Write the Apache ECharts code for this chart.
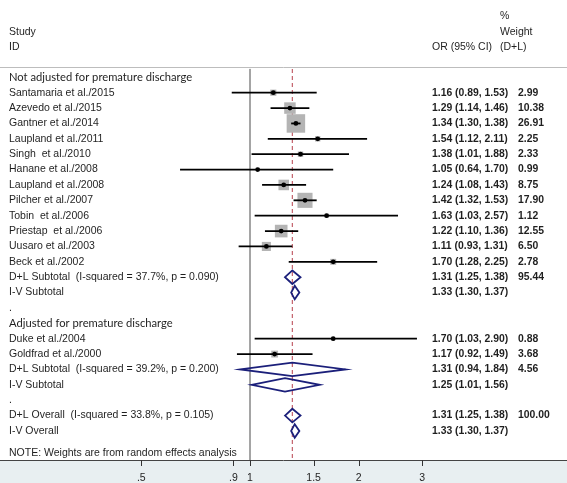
<!DOCTYPE html>
<html><head><meta charset="utf-8">
<script src="https://cdn.jsdelivr.net/npm/echarts@6/dist/echarts.min.js"></script>
<style>html,body{margin:0;padding:0;background:#fff}#c{width:567px;height:483px}</style>
</head><body><div id="c"></div>
<script>
// ---------------- data ----------------
const groupHeadings = ['Not adjusted for premature discharge', 'Adjusted for premature discharge'];
const groupRows = [0, 16];
const studyNames = ['Santamaria et al./2015', 'Azevedo et al./2015', 'Gantner et al./2014', 'Laupland et al./2011',
  'Singh  et al./2010', 'Hanane et al./2008', 'Laupland et al./2008', 'Pilcher et al./2007', 'Tobin  et al./2006',
  'Priestap  et al./2006', 'Uusaro et al./2003', 'Beck et al./2002', 'Duke et al./2004', 'Goldfrad et al./2000'];
const studyRows = [1, 2, 3, 4, 5, 6, 7, 8, 9, 10, 11, 12, 17, 18];
const studyOR = [1.16, 1.29, 1.34, 1.54, 1.38, 1.05, 1.24, 1.42, 1.63, 1.22, 1.11, 1.70, 1.70, 1.17];
const studyLow = [0.89, 1.14, 1.30, 1.12, 1.01, 0.64, 1.08, 1.32, 1.03, 1.10, 0.93, 1.28, 1.03, 0.92];
const studyHigh = [1.53, 1.46, 1.38, 2.11, 1.88, 1.70, 1.43, 1.53, 2.57, 1.36, 1.31, 2.25, 2.90, 1.49];
const studyWeight = [2.99, 10.38, 26.91, 2.25, 2.33, 0.99, 8.75, 17.90, 1.12, 12.55, 6.50, 2.78, 0.88, 3.68];
const pooledLabels = ['D+L Subtotal  (I-squared = 37.7%, p = 0.090)', 'I-V Subtotal',
  'D+L Subtotal  (I-squared = 39.2%, p = 0.200)', 'I-V Subtotal',
  'D+L Overall  (I-squared = 33.8%, p = 0.105)', 'I-V Overall'];
const pooledRows = [13, 14, 19, 20, 22, 23];
const pooledOR = [1.31, 1.33, 1.31, 1.25, 1.31, 1.33];
const pooledLow = [1.25, 1.30, 0.94, 1.01, 1.25, 1.30];
const pooledHigh = [1.38, 1.37, 1.84, 1.56, 1.38, 1.37];
const pooledWeight = ['95.44', '', '4.56', '', '100.00', ''];
const spacerRows = [15, 21];
const noteText = 'NOTE: Weights are from random effects analysis';
const noteRow = 24.45;
const tickValues = [0.5, 0.9, 1, 1.5, 2, 3];
const tickLabels = ['.5', '.9', '1', '1.5', '2', '3'];
const nullValue = 1;
const overallValue = 1.31;

// ---------------- layout / style ----------------
const ROW_MIN = -5.03, ROW_MAX = 24.89;
const X_MIN = 0.203, X_MAX = 7.551;
const TXT = '#1f1f1f';
const fontN = '10.5px "Liberation Sans", Arial, sans-serif';
const fontB = 'bold 10.4px "Liberation Sans", Arial, sans-serif';
const fontH = '11.2px Lato, "Open Sans", sans-serif';
const fmt = (o, l, h) => o.toFixed(2) + ' (' + l.toFixed(2) + ', ' + h.toFixed(2) + ')';

// text table built from the arrays
const textRows = [];
groupHeadings.forEach((g, i) => textRows.push({row: groupRows[i], label: g, font: fontH, est: '', wt: ''}));
studyNames.forEach((n, i) => textRows.push({row: studyRows[i], label: n, font: fontN,
  est: fmt(studyOR[i], studyLow[i], studyHigh[i]), wt: studyWeight[i].toFixed(2)}));
pooledLabels.forEach((n, i) => textRows.push({row: pooledRows[i], label: n, font: fontN,
  est: fmt(pooledOR[i], pooledLow[i], pooledHigh[i]), wt: pooledWeight[i]}));
spacerRows.forEach(r => textRows.push({row: r, label: '.', font: fontN, est: '', wt: ''}));
textRows.push({row: noteRow, label: noteText, font: fontN, est: '', wt: ''});

const chart = echarts.init(document.getElementById('c'), null, {renderer: 'canvas'});
chart.setOption({
  animation: false,
  backgroundColor: '#ffffff',
  grid: {left: 0, right: 0, top: 0, bottom: 23},
  xAxis: {type: 'log', logBase: 10, min: X_MIN, max: X_MAX, position: 'bottom',
    axisLine: {show: true, onZero: false, lineStyle: {color: '#444', width: 1}},
    axisTick: {show: false}, axisLabel: {show: false}, splitLine: {show: false}},
  yAxis: {type: 'value', inverse: true, min: ROW_MIN, max: ROW_MAX, show: false, splitLine: {show: false}},
  graphic: [
    {type: 'rect', left: 0, top: 461, shape: {width: 567, height: 22}, style: {fill: '#e8eff1'}, z: -1},
    {type: 'line', shape: {x1: 0, y1: 67.5, x2: 567, y2: 67.5}, style: {stroke: '#bdbdbd', lineWidth: 1}},
    {type: 'text', x: 9, y: 32, style: {text: 'Study', font: fontN, fill: TXT, verticalAlign: 'middle'}},
    {type: 'text', x: 9, y: 47.5, style: {text: 'ID', font: fontN, fill: TXT, verticalAlign: 'middle'}},
    {type: 'text', x: 432, y: 47.5, style: {text: 'OR (95% CI)', font: fontN, fill: TXT, verticalAlign: 'middle'}},
    {type: 'text', x: 500, y: 16, style: {text: '%', font: fontN, fill: TXT, verticalAlign: 'middle'}},
    {type: 'text', x: 500, y: 32, style: {text: 'Weight', font: fontN, fill: TXT, verticalAlign: 'middle'}},
    {type: 'text', x: 500, y: 47.5, style: {text: '(D+L)', font: fontN, fill: TXT, verticalAlign: 'middle'}}
  ],
  series: [
    { // reference lines
      type: 'custom', z: 1,
      data: [[nullValue, 0], [overallValue, 1]],
      renderItem(params, api) {
        const v = api.value(0), kind = api.value(1);
        const a = api.coord([v, -0.55]), b = api.coord([v, ROW_MAX]);
        return {type: 'line', shape: {x1: a[0], y1: a[1], x2: b[0], y2: b[1]},
          style: kind === 0 ? {stroke: '#4a4a4a', lineWidth: 1}
                            : {stroke: '#c4616b', lineWidth: 1.2, lineDash: [4, 3]}};
      }
    },
    { // studies
      type: 'custom', z: 2,
      data: studyOR.map((v, i) => [v, studyRows[i], studyLow[i], studyHigh[i], studyWeight[i]]),
      renderItem(params, api) {
        const o = api.value(0), r = api.value(1), lo = api.value(2), hi = api.value(3), w = api.value(4);
        const p = api.coord([o, r]), pl = api.coord([lo, r]), ph = api.coord([hi, r]);
        const s = 3.566 * Math.sqrt(w);
        return {type: 'group', children: [
          {type: 'rect', shape: {x: p[0] - s / 2, y: p[1] - s / 2, width: s, height: s}, style: {fill: '#b4b4b4'}},
          {type: 'line', shape: {x1: pl[0], y1: p[1], x2: ph[0], y2: p[1]}, style: {stroke: '#000', lineWidth: 1.8}},
          {type: 'circle', shape: {cx: p[0], cy: p[1], r: 2.4}, style: {fill: '#000'}}
        ]};
      }
    },
    { // pooled diamonds
      type: 'custom', z: 3,
      data: pooledOR.map((v, i) => [v, pooledRows[i], pooledLow[i], pooledHigh[i]]),
      renderItem(params, api) {
        const o = api.value(0), r = api.value(1), lo = api.value(2), hi = api.value(3);
        const pts = [api.coord([lo, r]), api.coord([o, r - 0.44]), api.coord([hi, r]), api.coord([o, r + 0.44])];
        return {type: 'polygon', shape: {points: pts}, style: {fill: 'rgba(255,255,255,0)', stroke: '#1b1f7a', lineWidth: 1.8}};
      }
    },
    { // text columns
      type: 'custom', z: 4,
      data: textRows.map((d, i) => [1, d.row, i]),
      renderItem(params, api) {
        const d = textRows[api.value(2)];
        const y = api.coord([1, api.value(1)])[1];
        const ch = [{type: 'text', x: 9, y: y, style: {text: d.label, font: d.font, fill: TXT, verticalAlign: 'middle'}}];
        if (d.est) ch.push({type: 'text', x: 432, y: y, style: {text: d.est, font: fontB, fill: TXT, verticalAlign: 'middle'}});
        if (d.wt) ch.push({type: 'text', x: 518, y: y, style: {text: d.wt, font: fontB, fill: TXT, verticalAlign: 'middle'}});
        return {type: 'group', children: ch};
      }
    },
    { // x ticks
      type: 'custom', z: 4,
      data: tickValues.map((v, i) => [v, ROW_MAX, i]),
      renderItem(params, api) {
        const p = api.coord([api.value(0), api.value(1)]);
        const x = Math.round(p[0]) + 0.5;
        return {type: 'group', children: [
          {type: 'line', shape: {x1: x, y1: p[1], x2: x, y2: p[1] + 6}, style: {stroke: '#333', lineWidth: 1}},
          {type: 'text', x: p[0], y: p[1] + 18, style: {text: tickLabels[api.value(2)], font: fontN, fill: TXT, align: 'center', verticalAlign: 'middle'}}
        ]};
      }
    }
  ]
});
</script>
</body></html>
